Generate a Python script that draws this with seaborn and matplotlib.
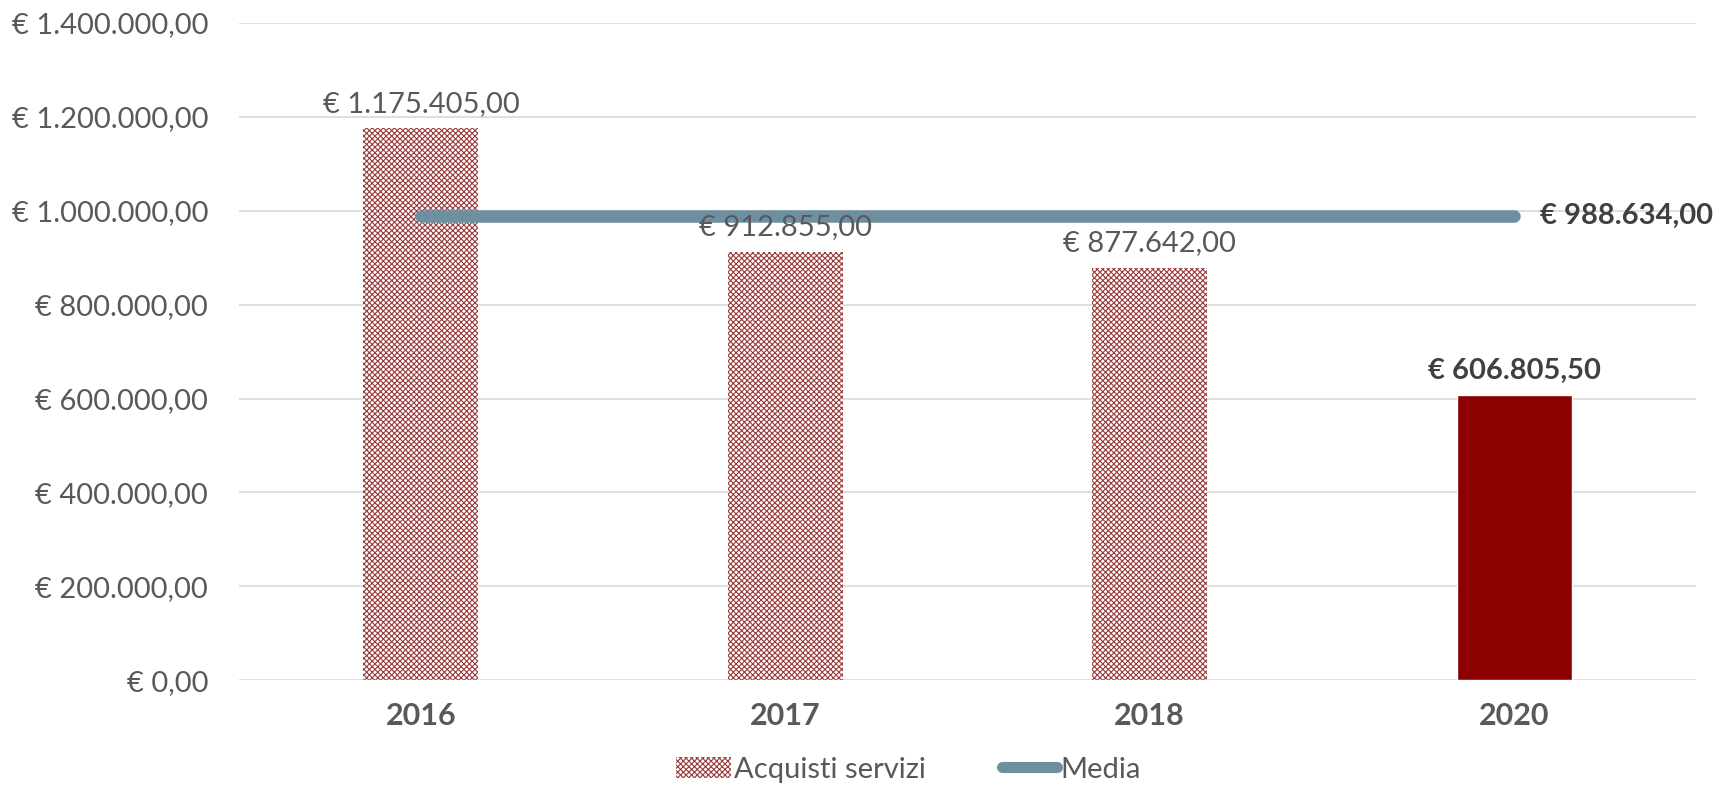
import matplotlib
matplotlib.use("Agg")
import matplotlib.pyplot as plt
import seaborn as sns
from matplotlib.patches import Patch
from matplotlib.lines import Line2D

# data
anni = ["2016", "2017", "2018", "2020"]
acquisti = [1175405.00, 912855.00, 877642.00, 606805.50]
media = [988634.00, 988634.00, 988634.00, 988634.00]
etichette = ["€ 1.175.405,00", "€ 912.855,00", "€ 877.642,00", "€ 606.805,50"]
etichetta_media = "€ 988.634,00"
yticks = [0, 200000, 400000, 600000, 800000, 1000000, 1200000, 1400000]
ytick_labels = ["€ 0,00", "€ 200.000,00", "€ 400.000,00", "€ 600.000,00",
                "€ 800.000,00", "€ 1.000.000,00", "€ 1.200.000,00", "€ 1.400.000,00"]

sns.set_style("white")
plt.rcParams["font.family"] = ["Lato", "DejaVu Sans"]
plt.rcParams["hatch.linewidth"] = 0.8

TXT = "#595959"
RED = "#8B0000"
HATCH = "#9A3A3A"
BLUE = "#6E8FA0"

fig = plt.figure(figsize=(17.17, 7.91), dpi=100)
ax = fig.add_axes([0.139, 0.140, 0.849, 0.831])

sns.barplot(x=anni, y=acquisti, color=RED, width=0.315, ax=ax, zorder=2)
for i, bar in enumerate(ax.patches):
    if i < 3:
        bar.set_facecolor("white")
        bar.set_edgecolor(HATCH)
        bar.set_hatch("xxxxxx")
        bar.set_linewidth(0)
    else:
        bar.set_facecolor(RED)

ax.plot(range(len(anni)), media, color=BLUE, lw=9, solid_capstyle="round", zorder=3)
ax.text(len(anni) - 1 + 0.07, media[-1], etichetta_media, ha="left", va="center",
        fontsize=21, fontweight="bold", color="#404040")

for i, (v, lab) in enumerate(zip(acquisti, etichette)):
    bold = i == len(anni) - 1
    ax.text(i, v + 25000, lab, ha="center", va="bottom", fontsize=21,
            color="#404040" if bold else TXT, fontweight="bold" if bold else "normal")

ax.set_ylim(0, 1400000)
ax.set_xlim(-0.5, 3.5)
ax.set_yticks(yticks)
ax.set_yticklabels(ytick_labels, fontsize=21, color=TXT)
ax.tick_params(axis="y", length=0, pad=22)
ax.tick_params(axis="x", length=0, pad=16)
for t in ax.get_xticklabels():
    t.set_fontsize(22)
    t.set_fontweight("bold")
    t.set_color(TXT)
ax.grid(axis="y", color="#d9d9d9", lw=1.2, zorder=0)
ax.set_axisbelow(True)
for s in ax.spines.values():
    s.set_visible(False)
ax.set_xlabel("")
ax.set_ylabel("")

handles = [
    Patch(facecolor="white", edgecolor=HATCH, hatch="xxxxxx", linewidth=0, label="Acquisti servizi"),
    Line2D([0], [0], color=BLUE, lw=8, solid_capstyle="round", label="Media"),
]
fig.legend(handles=handles, loc="center", bbox_to_anchor=(0.529, 0.027), ncol=2,
           frameon=False, fontsize=21, labelcolor=TXT, handlelength=1.9,
           handleheight=0.7, handletextpad=0.1, columnspacing=2.6)

fig.savefig("out.png", dpi=100)
